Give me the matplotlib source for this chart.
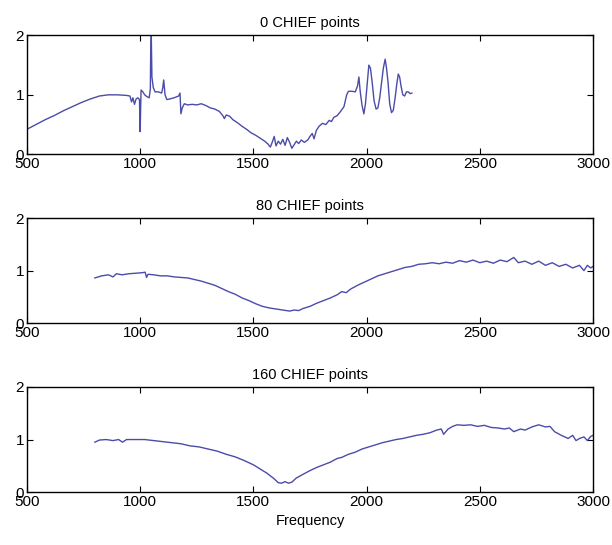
import matplotlib
matplotlib.use("Agg")
import matplotlib.pyplot as plt

plt.rcParams['font.family'] = ['Liberation Sans', 'DejaVu Sans']

# 0 CHIEF points
f0 = [500, 540, 580, 620, 660, 700, 740, 780, 820, 860, 900, 940, 955, 962, 968,
      975, 982, 990, 997, 1000, 1004, 1012, 1020, 1030, 1040, 1045, 1048, 1052,
      1058, 1066, 1080, 1095, 1100, 1104, 1110, 1118, 1130, 1150, 1170, 1176,
      1180, 1186, 1195, 1210, 1230, 1250, 1270, 1290, 1310, 1330, 1350, 1365,
      1372, 1380, 1395, 1410, 1430, 1450, 1470, 1490, 1510, 1530, 1550, 1565,
      1575, 1585, 1592, 1600, 1610, 1620, 1630, 1640, 1650, 1660, 1670, 1680,
      1690, 1700, 1712, 1725, 1740, 1750, 1760, 1768, 1778, 1790, 1805, 1820,
      1835, 1845, 1855, 1870, 1885, 1900, 1912, 1920, 1935, 1950, 1960, 1966,
      1972, 1980, 1988, 1995, 2003, 2010, 2017, 2025, 2033, 2042, 2050, 2058,
      2066, 2074, 2082, 2088, 2095, 2102, 2110, 2118, 2126, 2134, 2140, 2146,
      2152, 2160, 2168, 2176, 2184, 2192, 2200]
v0 = [0.42, 0.50, 0.58, 0.65, 0.73, 0.80, 0.87, 0.93, 0.98, 1.0, 1.0, 0.99, 0.98,
      0.88, 0.95, 0.84, 0.93, 0.95, 0.92, 0.38, 1.08, 1.05, 1.0, 0.97, 0.95, 1.1,
      2.3, 1.3, 1.12, 1.05, 1.05, 1.03, 1.12, 1.25, 1.0, 0.92, 0.93, 0.95, 0.98,
      1.03, 0.68, 0.78, 0.85, 0.83, 0.84, 0.83, 0.85, 0.82, 0.78, 0.76, 0.72,
      0.65, 0.60, 0.66, 0.64, 0.58, 0.53, 0.47, 0.42, 0.36, 0.32, 0.27, 0.22,
      0.17, 0.12, 0.22, 0.30, 0.14, 0.22, 0.17, 0.25, 0.15, 0.28, 0.20, 0.10,
      0.16, 0.22, 0.18, 0.24, 0.20, 0.24, 0.30, 0.35, 0.26, 0.40, 0.47, 0.52,
      0.50, 0.57, 0.55, 0.62, 0.65, 0.72, 0.80, 1.0, 1.06, 1.06, 1.05, 1.15, 1.3,
      1.05, 0.82, 0.68, 0.85, 1.2, 1.5, 1.45, 1.2, 0.9, 0.76, 0.78, 0.95, 1.2,
      1.45, 1.6, 1.45, 1.2, 0.85, 0.7, 0.74, 0.95, 1.2, 1.35, 1.3, 1.15, 1.0,
      0.98, 1.05, 1.05, 1.02, 1.03]

# 80 CHIEF points
f80 = [800, 830, 860, 880, 895, 920, 950, 980, 1010, 1022, 1028, 1035, 1060, 1090,
       1120, 1150, 1180, 1210, 1240, 1270, 1300, 1330, 1360, 1390, 1420, 1450,
       1480, 1510, 1540, 1570, 1600, 1630, 1660, 1680, 1700, 1720, 1750, 1780,
       1810, 1840, 1870, 1890, 1910, 1930, 1960, 1990, 2020, 2050, 2080, 2110,
       2140, 2170, 2200, 2230, 2260, 2290, 2320, 2350, 2380, 2410, 2440, 2470,
       2500, 2530, 2560, 2590, 2620, 2650, 2670, 2700, 2730, 2760, 2790, 2820,
       2850, 2880, 2910, 2940, 2960, 2975, 2990, 3000]
v80 = [0.86, 0.9, 0.92, 0.88, 0.94, 0.92, 0.94, 0.95, 0.96, 0.97, 0.87, 0.93,
       0.92, 0.9, 0.9, 0.88, 0.87, 0.86, 0.83, 0.8, 0.76, 0.72, 0.66, 0.6, 0.55,
       0.48, 0.43, 0.37, 0.32, 0.29, 0.27, 0.25, 0.23, 0.25, 0.24, 0.28, 0.32,
       0.38, 0.43, 0.48, 0.54, 0.6, 0.58, 0.65, 0.72, 0.78, 0.84, 0.9, 0.94, 0.98,
       1.02, 1.06, 1.08, 1.12, 1.13, 1.15, 1.13, 1.16, 1.14, 1.19, 1.16, 1.2, 1.15,
       1.18, 1.14, 1.2, 1.17, 1.25, 1.15, 1.18, 1.12, 1.18, 1.1, 1.15, 1.08, 1.12,
       1.05, 1.1, 1.0, 1.1, 1.05, 1.08]

# 160 CHIEF points
f160 = [800, 820, 850, 880, 905, 922, 940, 980, 1020, 1060, 1100, 1140, 1180, 1220,
        1260, 1300, 1340, 1380, 1420, 1460, 1500, 1530, 1560, 1590, 1610, 1625,
        1640, 1655, 1670, 1690, 1720, 1750, 1780, 1810, 1840, 1870, 1890, 1920,
        1950, 1980, 2010, 2040, 2070, 2100, 2130, 2160, 2190, 2220, 2250, 2280,
        2310, 2330, 2340, 2360, 2380, 2400, 2430, 2460, 2490, 2520, 2550, 2580,
        2610, 2630, 2650, 2680, 2700, 2730, 2760, 2790, 2810, 2830, 2860, 2890,
        2910, 2925, 2940, 2960, 2975, 2990, 3000]
v160 = [0.95, 0.99, 1.0, 0.98, 1.0, 0.95, 1.0, 1.0, 1.0, 0.98, 0.96, 0.94, 0.92,
        0.88, 0.86, 0.82, 0.78, 0.72, 0.67, 0.6, 0.52, 0.44, 0.36, 0.26, 0.18,
        0.17, 0.2, 0.17, 0.19, 0.27, 0.34, 0.41, 0.47, 0.52, 0.57, 0.64, 0.66,
        0.72, 0.76, 0.82, 0.86, 0.9, 0.94, 0.97, 1.0, 1.02, 1.05, 1.08, 1.1, 1.13,
        1.18, 1.2, 1.1, 1.2, 1.25, 1.28, 1.27, 1.28, 1.25, 1.27, 1.23, 1.22, 1.2,
        1.22, 1.15, 1.2, 1.18, 1.24, 1.28, 1.24, 1.25, 1.15, 1.08, 1.02, 1.08,
        0.98, 1.02, 1.05, 0.98, 1.06, 1.08]

titles = ['0 CHIEF points', '80 CHIEF points', '160 CHIEF points']
xticks = [500, 1000, 1500, 2000, 2500, 3000]
yticks = [0, 1, 2]

fig = plt.figure(figsize=(6.12, 5.45), dpi=100)
boxes = [[0.044, 0.717, 0.925, 0.218],
         [0.044, 0.407, 0.925, 0.193],
         [0.044, 0.097, 0.925, 0.193]]
series = [(f0, v0), (f80, v80), (f160, v160)]

for box, (f, v), t in zip(boxes, series, titles):
    ax = fig.add_axes(box)
    ax.plot(f, v, color='#4b4bab', linewidth=1.0)
    ax.set_xlim(500, 3000)
    ax.set_ylim(0, 2)
    ax.set_xticks(xticks)
    ax.set_yticks(yticks)
    ax.tick_params(direction='in', length=4, top=True, right=True,
                   labelsize=11, pad=2)
    ax.set_title(t, fontsize=10.5, pad=6)
    for s in ax.spines.values():
        s.set_linewidth(1.0)

ax.set_xlabel('Frequency', fontsize=10.5, labelpad=4)

plt.savefig('out.png', dpi=100)
